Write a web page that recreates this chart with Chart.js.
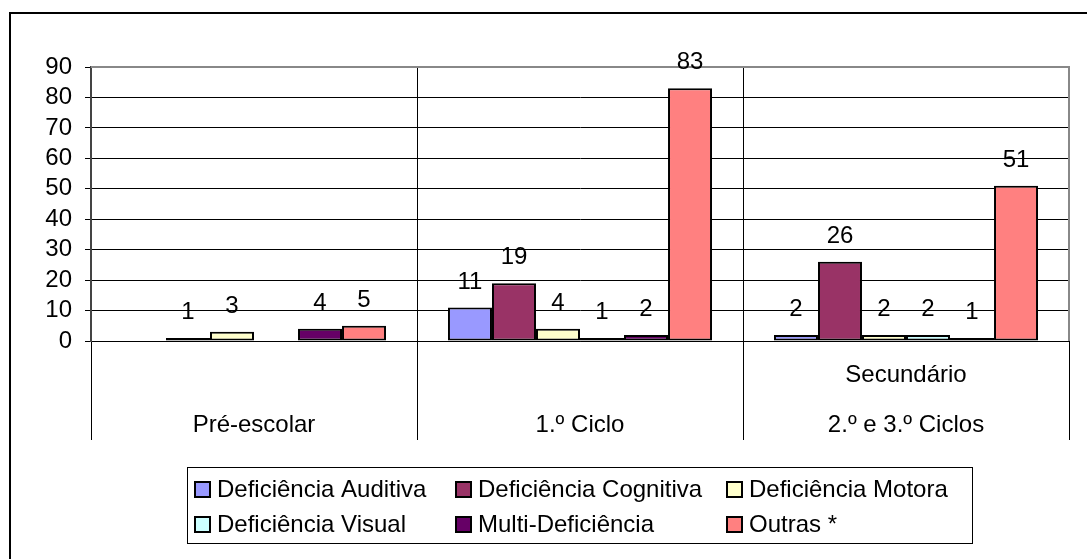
<!DOCTYPE html>
<html lang="pt">
<head>
<meta charset="UTF-8">
<title>Alunos por tipo de deficiência e nível de ensino</title>
<style>
  body { margin: 0; background: #fff; }
  canvas { display: block; }
</style>
</head>
<body>
<canvas id="neeChart" width="1087" height="559"></canvas>

<script src="https://cdn.jsdelivr.net/npm/chart.js"></script>
<script>
    // categorias (eixo x) - a terceira tem duas linhas
    const niveis = ['Pré-escolar', '1.º Ciclo', ['Secundário', '2.º e 3.º Ciclos']];

    // valores por tipo de deficiência (null = sem barra)
    const auditiva = [null, 11, 2];
    const cognitiva = [1, 19, 26];
    const motora = [3, 4, 2];
    const visual = [null, 1, 2];
    const multi = [4, 2, 1];
    const outras = [5, 83, 51];

    const series = ['Deficiência Auditiva', 'Deficiência Cognitiva', 'Deficiência Motora',
        'Deficiência Visual', 'Multi-Deficiência', 'Outras *'];
    const cores = ['#9999FF', '#993366', '#FFFFCC', '#CCFFFF', '#660066', '#FF8080'];

    const yMin = 0, yMax = 90, yStep = 10;

    const FONT = '"Liberation Sans", Arial, sans-serif';
    const FSIZE = 24;
    Chart.defaults.font.family = FONT;
    Chart.defaults.font.size = FSIZE;
    Chart.defaults.color = '#000';

    // moldura exterior + fundo branco
    const frame = {
        id: 'frame',
        beforeDraw(chart) {
            const ctx = chart.ctx;
            ctx.save();
            ctx.fillStyle = '#fff';
            ctx.fillRect(0, 0, chart.width, chart.height);
            ctx.strokeStyle = '#000';
            ctx.lineWidth = 2;
            ctx.beginPath();
            ctx.moveTo(10, chart.height + 2);
            ctx.lineTo(10, 13);
            ctx.lineTo(chart.width + 2, 13);
            ctx.stroke();
            ctx.restore();
        }
    };

    // borda cinzenta da área do gráfico (topo e direita)
    const plotBorder = {
        id: 'plotBorder',
        beforeDatasetsDraw(chart) {
            const { ctx, chartArea: a } = chart;
            ctx.save();
            ctx.strokeStyle = '#888';
            ctx.lineWidth = 2;
            ctx.beginPath();
            ctx.moveTo(a.left, a.top);
            ctx.lineTo(a.right, a.top);
            ctx.lineTo(a.right, a.bottom);
            ctx.stroke();
            ctx.restore();
        }
    };

    // valores por cima das barras
    const valueLabels = {
        id: 'valueLabels',
        afterDatasetsDraw(chart) {
            const ctx = chart.ctx;
            ctx.save();
            ctx.font = FSIZE + 'px ' + FONT;
            ctx.fillStyle = '#000';
            ctx.textAlign = 'center';
            ctx.textBaseline = 'alphabetic';
            chart.data.datasets.forEach((ds, i) => {
                chart.getDatasetMeta(i).data.forEach((bar, j) => {
                    const v = ds.data[j];
                    if (v === null || v === undefined) return;
                    ctx.fillText(String(v), bar.x, bar.y - 19);
                });
            });
            ctx.restore();
        }
    };

    // legenda em caixa, 3 colunas x 2 linhas (como no Excel)
    const boxLegend = {
        id: 'boxLegend',
        afterDraw(chart) {
            const ctx = chart.ctx;
            const colX = [195, 456, 727];
            const rowY = [489, 524];
            ctx.save();
            ctx.strokeStyle = '#000';
            ctx.lineWidth = 1;
            ctx.strokeRect(187.5, 467.5, 785, 76);
            ctx.font = FSIZE + 'px ' + FONT;
            ctx.textBaseline = 'middle';
            ctx.textAlign = 'left';
            chart.data.datasets.forEach((ds, i) => {
                const x = colX[i % 3];
                const y = rowY[Math.floor(i / 3)];
                ctx.fillStyle = ds.backgroundColor;
                ctx.fillRect(x, y - 7, 15, 15);
                ctx.lineWidth = 2;
                ctx.strokeRect(x, y - 7, 15, 15);
                ctx.fillStyle = '#000';
                ctx.fillText(ds.label, x + 22, y + 1);
            });
            ctx.restore();
        }
    };

    const valores = [auditiva, cognitiva, motora, visual, multi, outras];

    const ctx = document.getElementById('neeChart').getContext('2d');
    const chart = new Chart(ctx, {
        type: 'bar',
        data: {
            labels: niveis,
            datasets: valores.map((vals, i) => ({
                label: series[i],
                data: vals,
                backgroundColor: cores[i],
                borderColor: '#000',
                borderWidth: 2,
                borderSkipped: false,
                categoryPercentage: 0.81,
                barPercentage: 1
            }))
        },
        options: {
            responsive: false,
            animation: false,
            devicePixelRatio: 1,
            layout: {
                padding: { top: 67, right: 18, bottom: 119, left: 0 }
            },
            plugins: {
                legend: { display: false },
                tooltip: { enabled: false }
            },
            scales: {
                x: {
                    grid: {
                        offset: true,
                        color: '#000',
                        lineWidth: 1,
                        tickLength: 99,
                        drawOnChartArea: true
                    },
                    border: { color: '#000', width: 1 },
                    ticks: {
                        color: '#000',
                        font: { size: FSIZE, lineHeight: 50 / FSIZE },
                        padding: -65,
                        crossAlign: 'far',
                        maxRotation: 0,
                        autoSkip: false
                    },
                    afterFit: scale => { scale.height = 99; }
                },
                y: {
                    min: yMin,
                    max: yMax,
                    grid: {
                        color: '#000',
                        lineWidth: 1,
                        tickLength: 6
                    },
                    border: { color: '#444', width: 2 },
                    ticks: {
                        stepSize: yStep,
                        autoSkip: false,
                        color: '#000',
                        font: { size: FSIZE },
                        padding: 13
                    },
                    afterFit: scale => { scale.width = 91; }
                }
            }
        },
        plugins: [frame, plotBorder, valueLabels, boxLegend]
    });
</script>
</body>
</html>
